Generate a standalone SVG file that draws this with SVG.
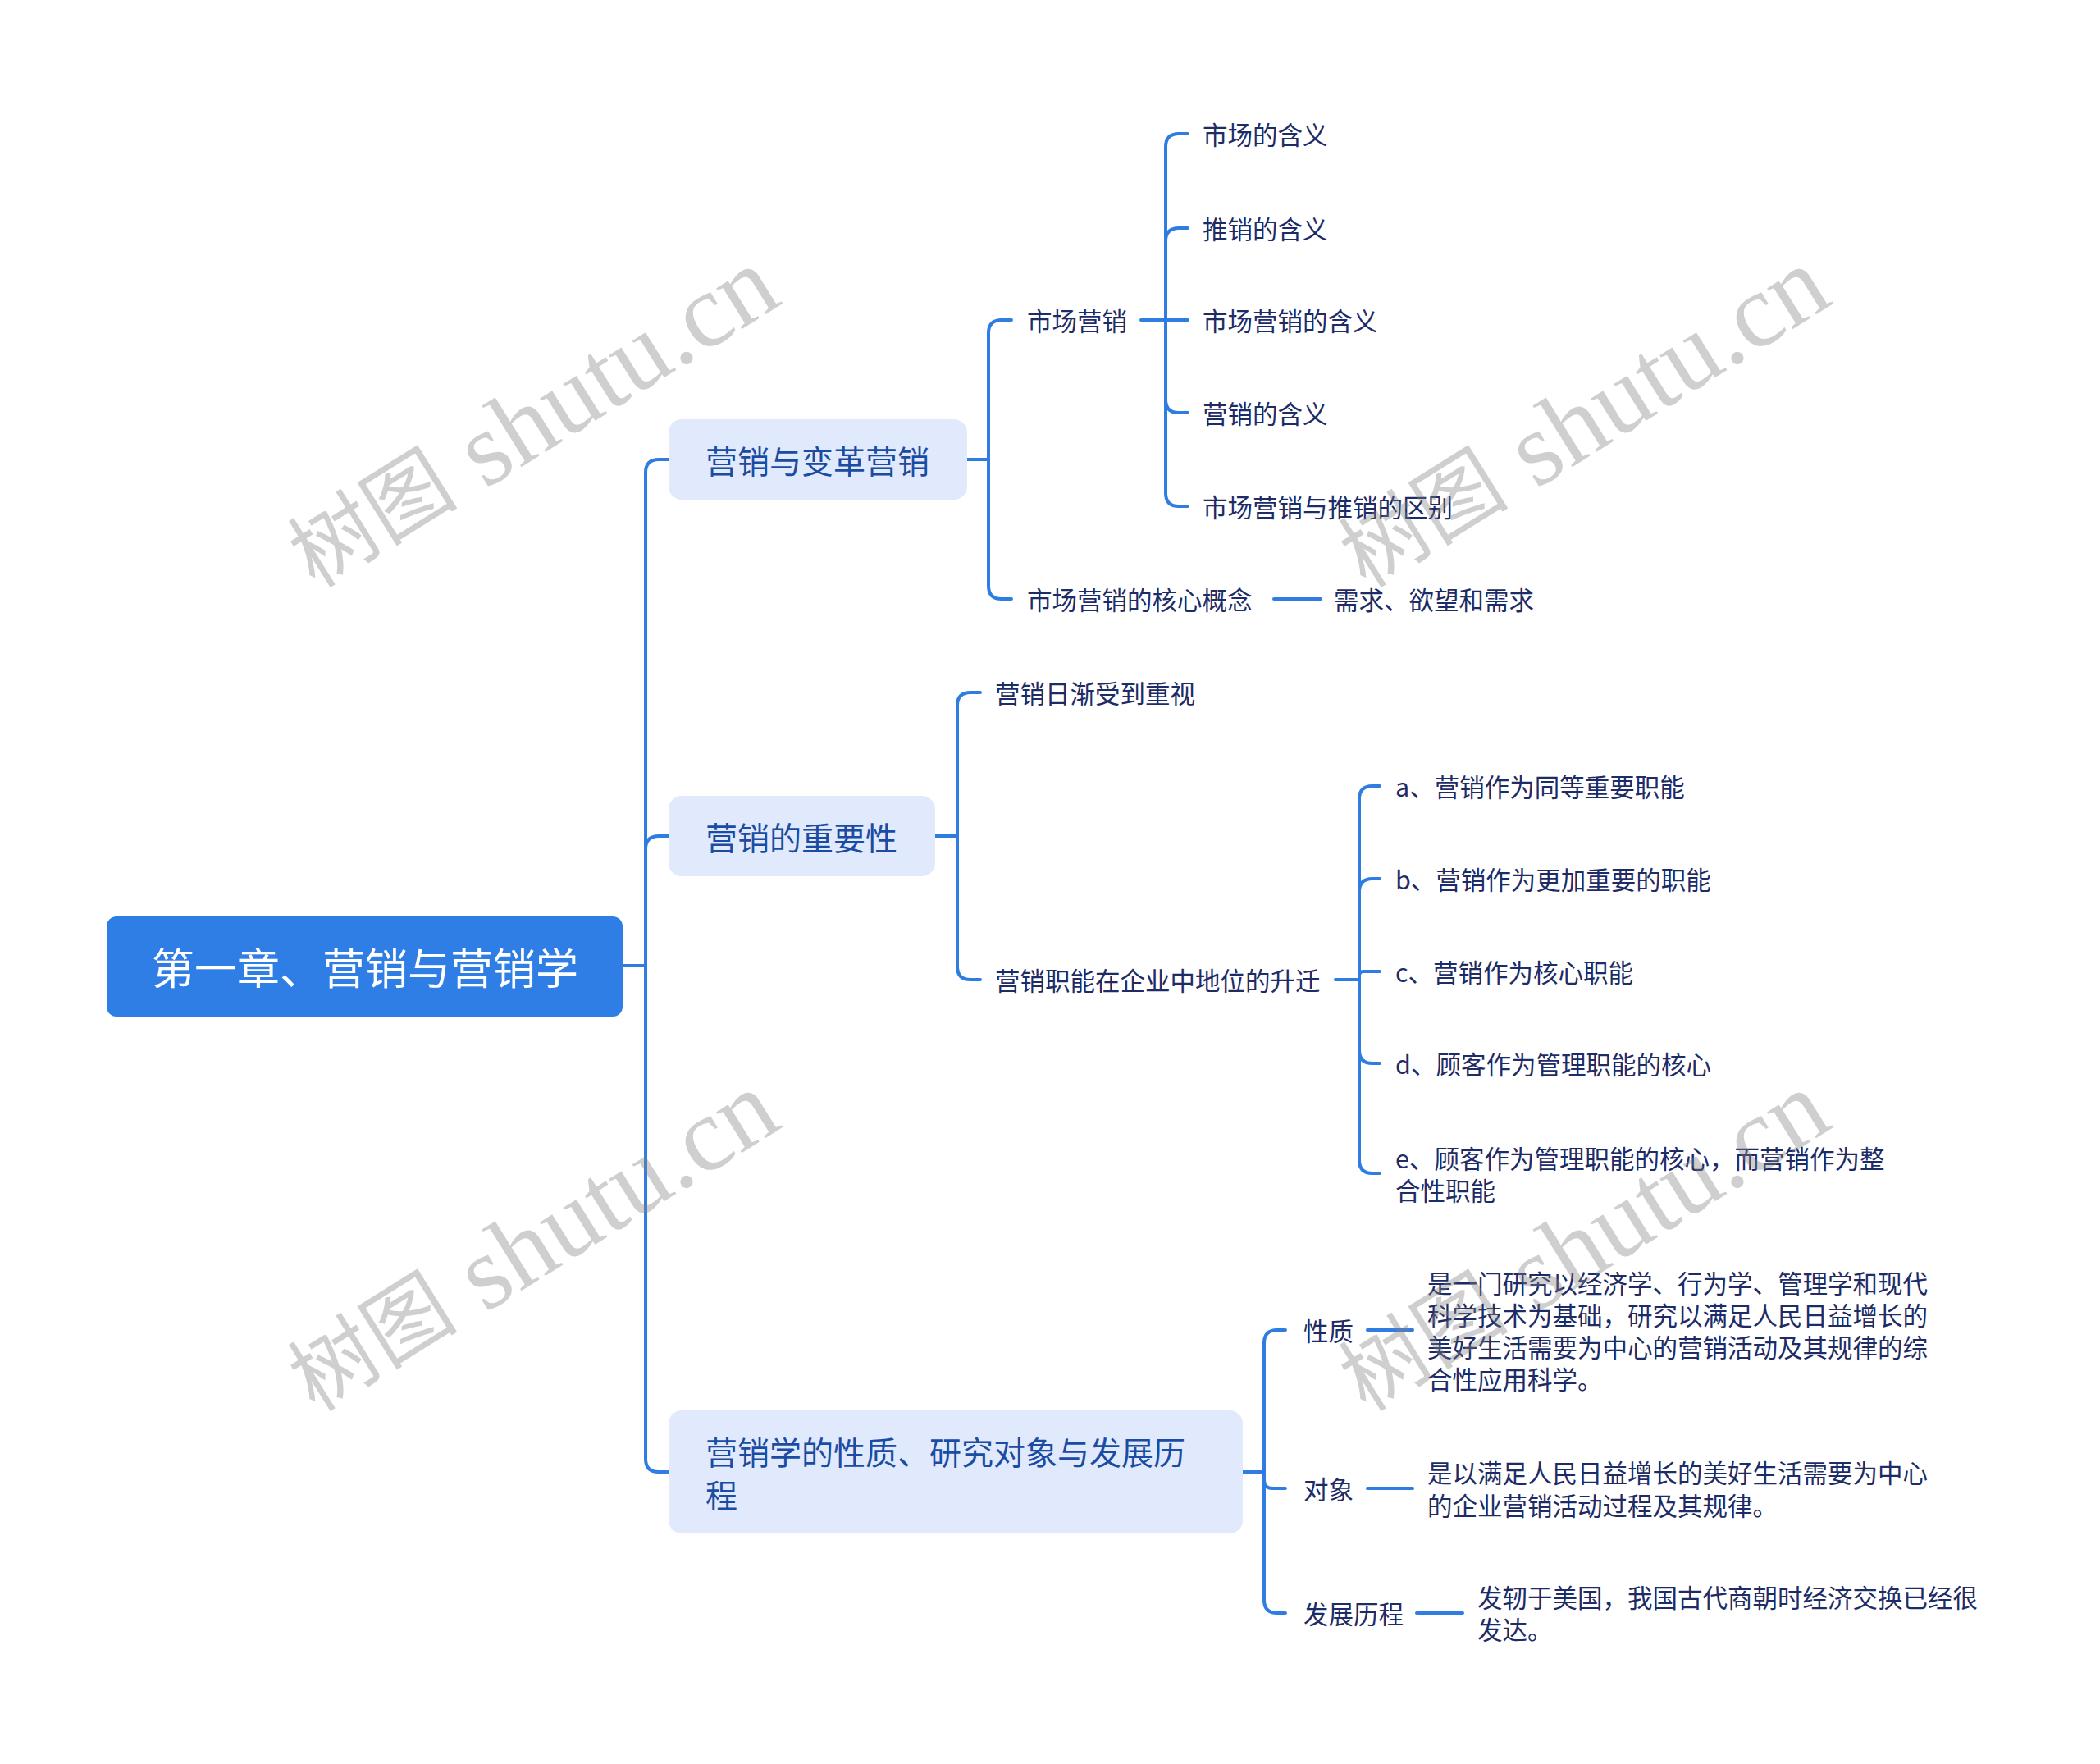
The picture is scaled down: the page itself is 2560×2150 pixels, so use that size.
<svg xmlns="http://www.w3.org/2000/svg" width="2560" height="2150" viewBox="0 0 2560 2150">
<style>
.bg{fill:#ffffff}
.ln{fill:none;stroke:#2f7de1;stroke-width:4;stroke-linecap:round;stroke-linejoin:round}
.root{fill:#2f7ee6}
.rt{font-family:"Noto Sans CJK SC","Noto Sans",sans-serif;font-size:52px;fill:#ffffff;text-anchor:middle;dominant-baseline:central}
.l1{fill:#e1eafc}
.t1{font-family:"Noto Sans CJK SC","Noto Sans",sans-serif;font-size:39px;fill:#1a4ca4;dominant-baseline:central}
.t2{font-family:"Noto Sans CJK SC","Noto Sans",sans-serif;font-size:30.5px;fill:#1d2c66;dominant-baseline:central}
.wm{font-family:"Liberation Serif","Noto Sans CJK SC",serif;font-size:128px;fill:#808080;fill-opacity:0.38;text-anchor:middle;dominant-baseline:central}
.wc{font-size:104px}
</style>
<rect class="bg" x="0" y="0" width="2560" height="2150"/>
<g id="connectors">
<path class="ln" d="M759 1177 H787"/>
<path class="ln" d="M787 1177 V576 Q787 560 803 560 H815"/>
<path class="ln" d="M787 1177 V1035 Q787 1019 803 1019 H815"/>
<path class="ln" d="M787 1177 V1778 Q787 1794 803 1794 H815"/>
<path class="ln" d="M1179 560 H1205"/>
<path class="ln" d="M1205 560 V406 Q1205 390 1221 390 H1233"/>
<path class="ln" d="M1205 560 V714 Q1205 730 1221 730 H1233"/>
<path class="ln" d="M1391 390 H1421"/>
<path class="ln" d="M1421 390 V179 Q1421 163 1437 163 H1448"/>
<path class="ln" d="M1421 390 V294 Q1421 278 1437 278 H1448"/>
<path class="ln" d="M1421 390 H1448"/>
<path class="ln" d="M1421 390 V487 Q1421 503 1437 503 H1448"/>
<path class="ln" d="M1421 390 V601 Q1421 617 1437 617 H1448"/>
<path class="ln" d="M1553 730 H1610"/>
<path class="ln" d="M1140 1019 H1167"/>
<path class="ln" d="M1167 1019 V860 Q1167 844 1183 844 H1195"/>
<path class="ln" d="M1167 1019 V1178 Q1167 1194 1183 1194 H1195"/>
<path class="ln" d="M1628 1194 H1657"/>
<path class="ln" d="M1657 1194 V974 Q1657 958 1673 958 H1682"/>
<path class="ln" d="M1657 1194 V1087 Q1657 1071 1673 1071 H1682"/>
<path class="ln" d="M1657 1194 V1189 Q1657 1184 1662 1184 H1682"/>
<path class="ln" d="M1657 1194 V1280 Q1657 1296 1673 1296 H1682"/>
<path class="ln" d="M1657 1194 V1414 Q1657 1430 1673 1430 H1682"/>
<path class="ln" d="M1515 1794 H1541"/>
<path class="ln" d="M1541 1794 V1637 Q1541 1621 1557 1621 H1567"/>
<path class="ln" d="M1541 1794 V1804 Q1541 1814 1551 1814 H1567"/>
<path class="ln" d="M1541 1794 V1950 Q1541 1966 1557 1966 H1567"/>
<path class="ln" d="M1667 1621 H1722"/>
<path class="ln" d="M1667 1814 H1722"/>
<path class="ln" d="M1727 1966 H1783"/>
</g>
<g id="root">
<rect class="root" x="130" y="1117" width="629" height="122" rx="12"/>
<text class="rt" x="445" y="1177">第一章、营销与营销学</text>
</g>
<g id="n1">
<rect class="l1" x="815" y="511" width="364" height="98" rx="16"/>
<text class="t1" x="860" y="560">营销与变革营销</text>
</g>
<g id="n2">
<rect class="l1" x="815" y="970" width="325" height="98" rx="16"/>
<text class="t1" x="860" y="1019">营销的重要性</text>
</g>
<g id="n3">
<rect class="l1" x="815" y="1719" width="700" height="150" rx="16"/>
<text class="t1" x="860" y="1768">营销学的性质、研究对象与发展历</text>
<text class="t1" x="860" y="1820">程</text>
</g>
<g id="n1-1"><text class="t2" x="1252" y="390">市场营销</text></g>
<g id="n1-1-1"><text class="t2" x="1466" y="163">市场的含义</text></g>
<g id="n1-1-2"><text class="t2" x="1466" y="278">推销的含义</text></g>
<g id="n1-1-3"><text class="t2" x="1466" y="390">市场营销的含义</text></g>
<g id="n1-1-4"><text class="t2" x="1466" y="503">营销的含义</text></g>
<g id="n1-1-5"><text class="t2" x="1466" y="617">市场营销与推销的区别</text></g>
<g id="n1-2"><text class="t2" x="1252" y="730">市场营销的核心概念</text></g>
<g id="n1-2-1"><text class="t2" x="1626" y="730">需求、欲望和需求</text></g>
<g id="n2-1"><text class="t2" x="1213" y="844">营销日渐受到重视</text></g>
<g id="n2-2"><text class="t2" x="1213" y="1194">营销职能在企业中地位的升迁</text></g>
<g id="n2-2-1"><text class="t2" x="1701" y="958">a、营销作为同等重要职能</text></g>
<g id="n2-2-2"><text class="t2" x="1701" y="1071">b、营销作为更加重要的职能</text></g>
<g id="n2-2-3"><text class="t2" x="1701" y="1184">c、营销作为核心职能</text></g>
<g id="n2-2-4"><text class="t2" x="1701" y="1296">d、顾客作为管理职能的核心</text></g>
<g id="n2-2-5"><text class="t2" x="1701" y="1411">e、顾客作为管理职能的核心，而营销作为整</text><text class="t2" x="1701" y="1450">合性职能</text></g>
<g id="n3-1"><text class="t2" x="1589" y="1621">性质</text></g>
<g id="n3-1-1">
<text class="t2" x="1740" y="1563">是一门研究以经济学、行为学、管理学和现代</text>
<text class="t2" x="1740" y="1602">科学技术为基础，研究以满足人民日益增长的</text>
<text class="t2" x="1740" y="1641">美好生活需要为中心的营销活动及其规律的综</text>
<text class="t2" x="1740" y="1680">合性应用科学。</text>
</g>
<g id="n3-2"><text class="t2" x="1589" y="1814">对象</text></g>
<g id="n3-2-1">
<text class="t2" x="1740" y="1794">是以满足人民日益增长的美好生活需要为中心</text>
<text class="t2" x="1740" y="1834">的企业营销活动过程及其规律。</text>
</g>
<g id="n3-3"><text class="t2" x="1589" y="1966">发展历程</text></g>
<g id="n3-3-1">
<text class="t2" x="1801" y="1946">发轫于美国，我国古代商朝时经济交换已经很</text>
<text class="t2" x="1801" y="1985">发达。</text>
</g>
<g id="watermarks">
<text class="wm" transform="translate(649 510) rotate(-32)"><tspan class="wc">树图</tspan> shutu.cn</text>
<text class="wm" transform="translate(1930 510) rotate(-32)"><tspan class="wc">树图</tspan> shutu.cn</text>
<text class="wm" transform="translate(649 1514) rotate(-32)"><tspan class="wc">树图</tspan> shutu.cn</text>
<text class="wm" transform="translate(1930 1514) rotate(-32)"><tspan class="wc">树图</tspan> shutu.cn</text>
</g>
</svg>
